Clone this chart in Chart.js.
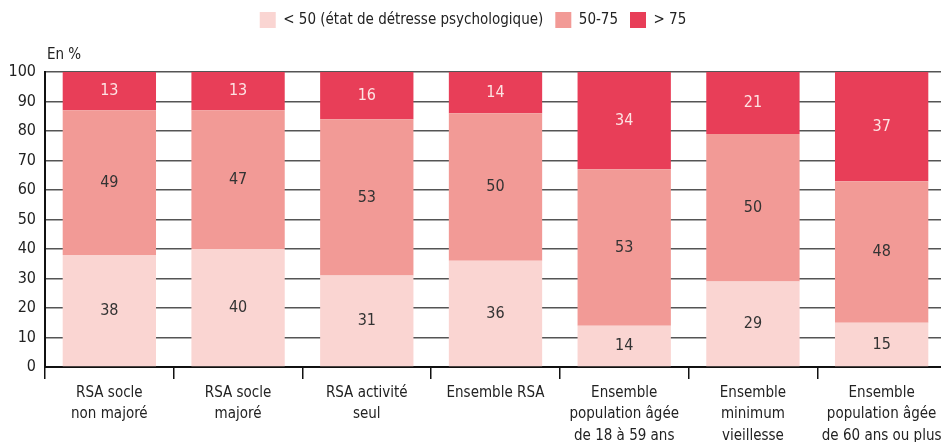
<!DOCTYPE html>
<html>
<head>
<meta charset="utf-8">
<script src="https://cdn.jsdelivr.net/npm/chart.js@4/dist/chart.umd.min.js"></script>
<style>
  html, body { margin: 0; padding: 0; background: #fff; overflow: hidden; }
  #wrap { width: 946px; height: 442px; }
</style>
</head>
<body>
<div id="wrap"><canvas id="detresseChart"></canvas></div>
<script>
const categories = [
  ['RSA socle', 'non majoré'],
  ['RSA socle', 'majoré'],
  ['RSA activité', 'seul'],
  ['Ensemble RSA'],
  ['Ensemble', 'population âgée', 'de 18 à 59 ans'],
  ['Ensemble', 'minimum', 'vieillesse'],
  ['Ensemble', 'population âgée', 'de 60 ans ou plus']
];
const seriesNames = ['< 50 (état de détresse psychologique)', '50-75', '> 75'];
const below50 = [38, 40, 31, 36, 14, 29, 15];
const from50to75 = [49, 47, 53, 50, 53, 50, 48];
const above75 = [13, 13, 16, 14, 34, 21, 37];
const yTicks = [0, 10, 20, 30, 40, 50, 60, 70, 80, 90, 100];

const FONT = '"DejaVu Sans Condensed", "Liberation Sans Narrow", sans-serif';

// draws the value in the middle of each segment
const segmentLabels = {
  id: 'segmentLabels',
  afterDatasetsDraw(chart) {
    const ctx = chart.ctx;
    ctx.save();
    ctx.font = '16px ' + FONT;
    ctx.textAlign = 'center';
    ctx.textBaseline = 'middle';
    chart.data.datasets.forEach((ds, i) => {
      const meta = chart.getDatasetMeta(i);
      meta.data.forEach((bar, j) => {
        const top = Math.max(bar.y, chart.chartArea.top);
        ctx.fillStyle = i === 2 ? '#fde3e3' : '#333333';
        ctx.fillText(ds.data[j], bar.x, (top + bar.base) / 2);
      });
    });
    ctx.restore();
  }
};

// "En %" above the y axis
const unitLabel = {
  id: 'unitLabel',
  afterDraw(chart) {
    const ctx = chart.ctx;
    ctx.save();
    ctx.font = '15px ' + FONT;
    ctx.fillStyle = '#222';
    ctx.textAlign = 'left';
    ctx.textBaseline = 'middle';
    ctx.fillText('En %', chart.chartArea.left + 2, chart.chartArea.top - 17);
    ctx.restore();
  }
};

// more room between legend and plot
const legendGap = {
  id: 'legendGap',
  beforeInit(chart) {
    const origFit = chart.legend.fit;
    chart.legend.fit = function fit() {
      origFit.bind(chart.legend)();
      this.height += 34;
    };
  }
};

const ctx = document.getElementById('detresseChart').getContext('2d');

const detresseChart = new Chart(ctx, {
  type: 'bar',
  data: {
    labels: categories,
    datasets: [
      { label: seriesNames[0], data: below50, backgroundColor: '#fad5d2' },
      { label: seriesNames[1], data: from50to75, backgroundColor: '#f29a96' },
      { label: seriesNames[2], data: above75, backgroundColor: '#e83e58' }
    ]
  },
  options: {
    responsive: true,
    maintainAspectRatio: false,
    animation: false,
    datasets: {
      bar: { barPercentage: 0.725, categoryPercentage: 1 }
    },
    plugins: {
      legend: {
        position: 'top',
        labels: {
          boxWidth: 16,
          boxHeight: 16,
          padding: 12,
          color: '#222',
          font: { family: FONT, size: 15 }
        }
      },
      tooltip: { enabled: false }
    },
    scales: {
      x: {
        stacked: true,
        grid: {
          offset: true,
          drawOnChartArea: false,
          color: '#111',
          lineWidth: 1.5,
          tickLength: 12
        },
        border: { color: '#111', width: 2 },
        ticks: {
          color: '#222',
          padding: 3,
          maxRotation: 0,
          autoSkip: false,
          font: { family: FONT, size: 15, lineHeight: 1.43 }
        },
        afterFit(scale) { scale.height = 75; }
      },
      y: {
        stacked: true,
        min: 0,
        max: 100,
        afterBuildTicks(scale) { scale.ticks = yTicks.map(v => ({ value: v })); },
        grid: {
          color: '#555',
          lineWidth: 1.5,
          drawTicks: false
        },
        border: { color: '#111', width: 2 },
        ticks: {
          color: '#222',
          padding: 9,
          font: { family: FONT, size: 16 }
        },
        afterFit(scale) { scale.width = 45; }
      }
    }
  },
  plugins: [segmentLabels, unitLabel, legendGap]
});
</script>
</body>
</html>
